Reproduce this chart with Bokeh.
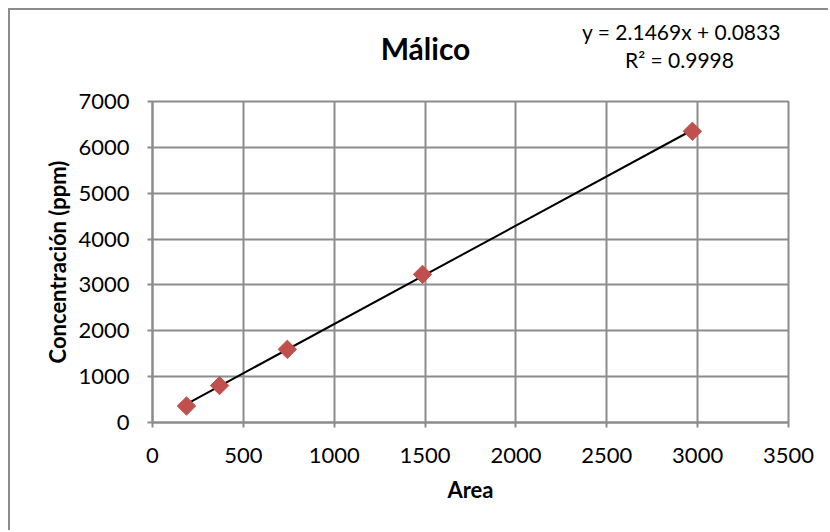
from bokeh.plotting import figure
from bokeh.models import Label, Range1d, FixedTicker
from bokeh.embed import file_html
from bokeh.resources import INLINE

# data
area = [187, 369, 742, 1486, 2971]
conc = [360, 805, 1595, 3230, 6350]
slope = 2.1469
intercept = 0.0833
r2 = 0.9998
x_ticks = [0, 500, 1000, 1500, 2000, 2500, 3000, 3500]
y_ticks = [0, 1000, 2000, 3000, 4000, 5000, 6000, 7000]

W, H = 820, 522
FONT = "Lato"
GRID = "#8c8c8c"

p = figure(width=W, height=H, output_backend="svg", toolbar_location=None,
           x_range=Range1d(0, 3500), y_range=Range1d(0, 7000),
           min_border_left=142, min_border_right=42,
           min_border_top=91, min_border_bottom=110)
p.styles = {"margin-left": "8px", "margin-top": "8px",
            "border-top": "2px solid #8c8c8c", "border-left": "2px solid #8c8c8c"}

p.outline_line_color = GRID
p.outline_line_width = 2
p.background_fill_color = "white"
p.border_fill_color = "white"

for ax in (p.xaxis, p.yaxis):
    ax.axis_line_color = GRID
    ax.axis_line_width = 2
    ax.major_tick_line_color = GRID
    ax.major_tick_line_width = 2
    ax.major_tick_out = 5
    ax.major_tick_in = 0
    ax.minor_tick_line_color = None
    ax.major_label_text_font = FONT
    ax.major_label_text_font_size = "22px"
    ax.major_label_text_color = "#000000"
    ax.axis_label_text_font = FONT
    ax.axis_label_text_font_style = "bold"
    ax.axis_label_text_font_size = "22px"
    ax.axis_label_text_color = "#000000"

p.xaxis.ticker = FixedTicker(ticks=x_ticks)
p.yaxis.ticker = FixedTicker(ticks=y_ticks)
p.xaxis.axis_label = "Area"
p.yaxis.axis_label = "Concentración (ppm)"
p.xaxis.major_label_standoff = 20
p.yaxis.major_label_standoff = 18
p.xaxis.axis_label_standoff = 10
p.yaxis.axis_label_standoff = 4

p.xgrid.ticker = FixedTicker(ticks=x_ticks)
p.ygrid.ticker = FixedTicker(ticks=y_ticks)
p.grid.grid_line_color = GRID
p.grid.grid_line_width = 2

# trend line from the regression equation, across the data range
xs = [min(area), max(area)]
ys = [slope * x + intercept for x in xs]
p.line(xs, ys, line_color="black", line_width=2)

p.scatter(area, conc, marker="square", angle=0.785398, size=13,
          fill_color="#c0504d", line_color="#c0504d")

# texts placed in the "above" panel so they are not clipped to the plot frame
p.add_layout(Label(x=273, y=54, x_units="screen", y_units="screen",
                   text="Málico", text_font=FONT, text_font_style="bold",
                   text_font_size="30px", text_align="center", text_baseline="middle",
                   text_color="#000000"), "above")
p.add_layout(Label(x=529, y=34, x_units="screen", y_units="screen",
                   text=f"y = {slope}x + {intercept}", text_font=FONT,
                   text_font_size="21px", text_align="center", text_baseline="middle",
                   text_color="#000000"), "above")
p.add_layout(Label(x=527, y=-19, x_units="screen", y_units="screen",
                   text=f"R² = {r2}", text_font=FONT,
                   text_font_size="21px", text_align="center", text_baseline="middle",
                   text_color="#000000"), "above")

open("out.html", "w").write(file_html(p, INLINE))
